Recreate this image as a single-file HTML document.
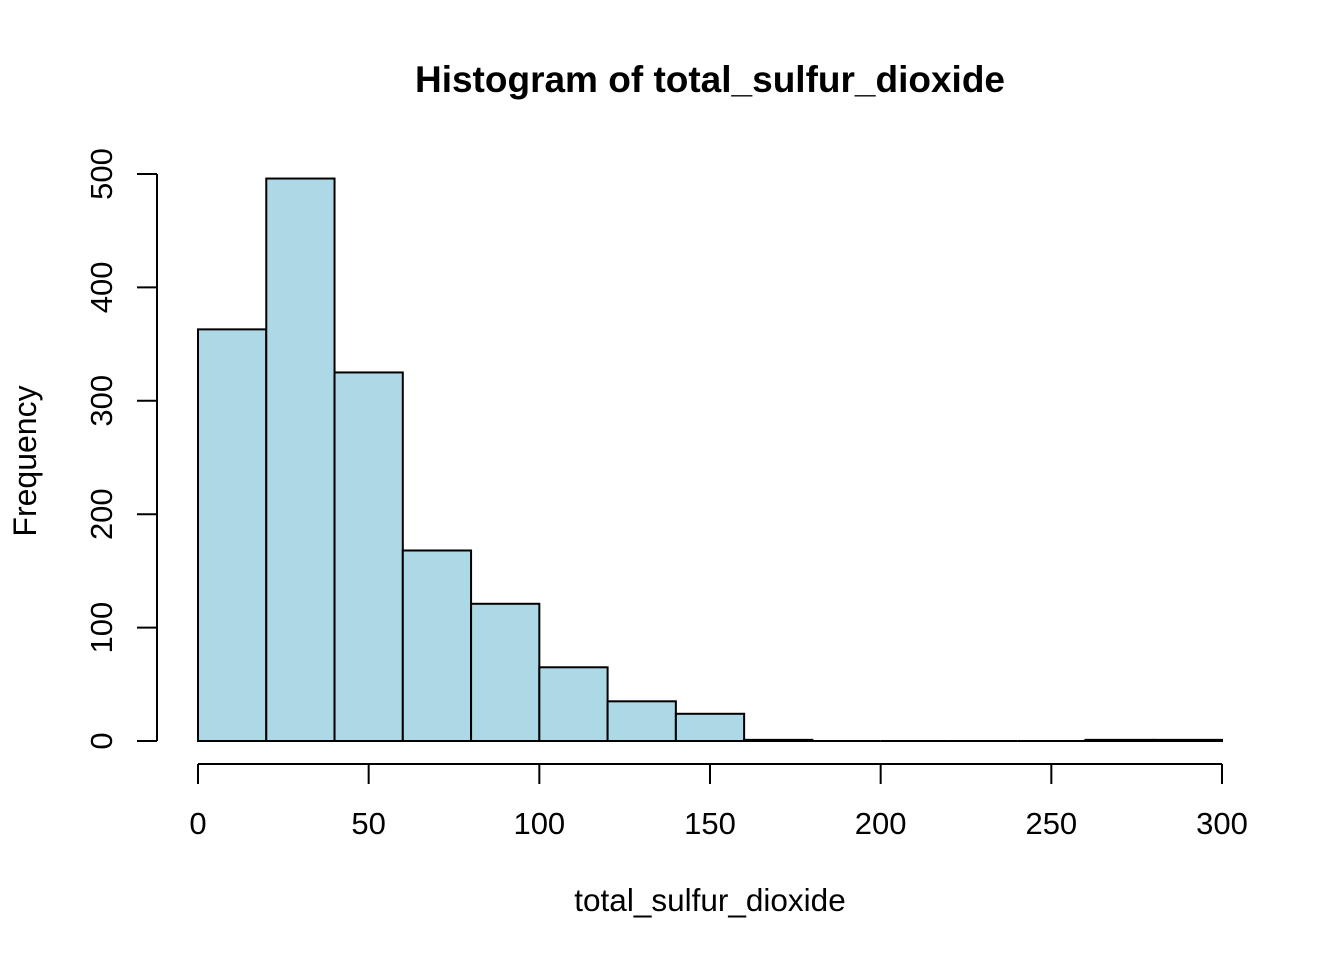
<!DOCTYPE html>
<html><head><meta charset="utf-8"><style>
html,body{margin:0;padding:0;background:#fff;}
svg text{font-family:"Liberation Sans",Arial,sans-serif;fill:#000;}
</style></head><body>
<svg id="chart" width="1344" height="960" viewBox="0 0 1344 960" xmlns="http://www.w3.org/2000/svg">
<rect width="1344" height="960" fill="#fff"/>
<text x="710" y="92" font-size="37" font-weight="bold" text-anchor="middle">Histogram of total_sulfur_dioxide</text>
<text x="710" y="911" font-size="31.5" text-anchor="middle">total_sulfur_dioxide</text>
<text transform="translate(36,461) rotate(-90)" font-size="32" text-anchor="middle">Frequency</text>
<g id="bars"></g>
<g id="xaxis"></g>
<g id="yaxis"></g>
</svg>
<script>
const binStarts = [0,20,40,60,80,100,120,140,160,180,200,220,240,260,280];
const binWidth = 20;
const counts = [363,496,325,168,121,65,35,24,1,0,0,0,0,1,1];
const xTicks = [0,50,100,150,200,250,300];
const yTicks = [0,100,200,300,400,500];

const NS = "http://www.w3.org/2000/svg";
const x = v => 198 + (v - 0) * (1222 - 198) / 300;
const y = v => 741 - v * (741 - 174) / 500;

const bars = document.getElementById('bars');
binStarts.forEach((s, i) => {
  let r;
  if (counts[i] === 0) {
    r = document.createElementNS(NS, 'line');
    r.setAttribute('x1', x(s)); r.setAttribute('x2', x(s + binWidth));
    r.setAttribute('y1', y(0)); r.setAttribute('y2', y(0));
  } else {
    r = document.createElementNS(NS, 'rect');
    r.setAttribute('x', x(s));
    r.setAttribute('y', y(counts[i]));
    r.setAttribute('width', x(s + binWidth) - x(s));
    r.setAttribute('height', y(0) - y(counts[i]));
    r.setAttribute('fill', '#add8e6');
  }
  r.setAttribute('stroke', '#000');
  r.setAttribute('stroke-width', '2');
  
  
  bars.appendChild(r);
});

const xa = document.getElementById('xaxis');
const xl = document.createElementNS(NS, 'line');
xl.setAttribute('x1', x(xTicks[0])); xl.setAttribute('x2', x(xTicks[xTicks.length - 1]));
xl.setAttribute('y1', 764); xl.setAttribute('y2', 764);
xl.setAttribute('stroke', '#000'); xl.setAttribute('stroke-width', '2');


xa.appendChild(xl);
xTicks.forEach(t => {
  const l = document.createElementNS(NS, 'line');
  l.setAttribute('x1', x(t)); l.setAttribute('x2', x(t));
  l.setAttribute('y1', 764); l.setAttribute('y2', 784);
  l.setAttribute('stroke', '#000'); l.setAttribute('stroke-width', '2');
  
  
  xa.appendChild(l);
  const tx = document.createElementNS(NS, 'text');
  tx.setAttribute('x', x(t)); tx.setAttribute('y', 834);
  tx.setAttribute('font-size', '31'); tx.setAttribute('text-anchor', 'middle');
  tx.textContent = t;
  
  
  xa.appendChild(tx);
});

const ya = document.getElementById('yaxis');
const yl = document.createElementNS(NS, 'line');
yl.setAttribute('x1', 157); yl.setAttribute('x2', 157);
yl.setAttribute('y1', y(yTicks[0])); yl.setAttribute('y2', y(yTicks[yTicks.length - 1]));
yl.setAttribute('stroke', '#000'); yl.setAttribute('stroke-width', '2');


ya.appendChild(yl);
yTicks.forEach(t => {
  const l = document.createElementNS(NS, 'line');
  l.setAttribute('x1', 137); l.setAttribute('x2', 157);
  l.setAttribute('y1', y(t)); l.setAttribute('y2', y(t));
  l.setAttribute('stroke', '#000'); l.setAttribute('stroke-width', '2');
  
  
  ya.appendChild(l);
  const tx = document.createElementNS(NS, 'text');
  tx.setAttribute('transform', 'translate(112,' + y(t) + ') rotate(-90)');
  tx.setAttribute('font-size', '31'); tx.setAttribute('text-anchor', 'middle');
  tx.textContent = t;
  
  
  ya.appendChild(tx);
});
</script>
</body></html>
